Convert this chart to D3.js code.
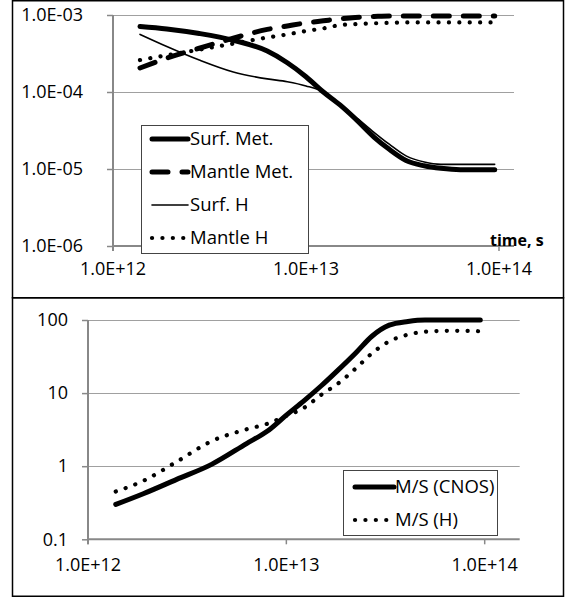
<!DOCTYPE html>
<html>
<head>
<meta charset="utf-8">
<script src="https://cdn.jsdelivr.net/npm/d3@7"></script>
<style>
    body { margin: 0; background: #fff; }
    text { font-family: "Open Sans", sans-serif; fill: #000; }
</style>
</head>
<body>
<div id="showBox"></div>
<script>
// time, s (shared by every series)
const times = [1.38e12, 1.9e12, 2.8e12, 4.2e12, 6.3e12, 8e12, 1.0e13, 1.23e13, 1.5e13, 1.8e13, 2.25e13, 2.7e13, 3.3e13, 4.1e13, 5e13, 6.3e13, 8e13, 9.5e13];

// top panel
const surfMet   = [7.1e-4, 6.6e-4, 5.75e-4, 4.7e-4, 3.4e-4, 2.4e-4, 1.58e-4, 1.0e-4, 6.8e-5, 4.5e-5, 2.6e-5, 1.8e-5, 1.29e-5, 1.1e-5, 1.02e-5, 9.8e-6, 9.8e-6, 9.8e-6];
const mantleMet = [2.05e-4, 2.75e-4, 3.7e-4, 5.0e-4, 6.5e-4, 7.2e-4, 7.9e-4, 8.4e-4, 8.9e-4, 9.3e-4, 9.55e-4, 9.7e-4, 9.7e-4, 9.7e-4, 9.7e-4, 9.7e-4, 9.7e-4, 9.7e-4];
const surfH     = [5.6e-4, 3.9e-4, 2.6e-4, 1.82e-4, 1.48e-4, 1.36e-4, 1.2e-4, 1.0e-4, 6.9e-5, 4.8e-5, 3.0e-5, 2.1e-5, 1.48e-5, 1.23e-5, 1.15e-5, 1.15e-5, 1.15e-5, 1.15e-5];
const mantleH   = [2.6e-4, 3.0e-4, 3.55e-4, 4.25e-4, 5.1e-4, 5.6e-4, 6.2e-4, 6.7e-4, 7.4e-4, 7.6e-4, 7.8e-4, 7.9e-4, 8.0e-4, 8.0e-4, 8.0e-4, 8.0e-4, 8.0e-4, 8.0e-4];

// bottom panel
const msCNOS = [0.30, 0.42, 0.66, 1.06, 2.04, 3.0, 5.0, 7.9, 12.6, 20, 36, 60, 85, 95.5, 100, 100, 100, 100];
const msH    = [0.45, 0.63, 1.15, 2.2, 3.2, 3.8, 4.9, 6.3, 9.5, 13.2, 22, 35, 51, 63, 69, 71, 71, 70];

const xTicks = [1e12, 1e13, 1e14];
const xTickLabels = ["1.0E+12", "1.0E+13", "1.0E+14"];
const topYTicks = [1e-6, 1e-5, 1e-4, 1e-3];
const topYTickLabels = ["1.0E-06", "1.0E-05", "1.0E-04", "1.0E-03"];
const botYTicks = [0.1, 1, 10, 100];
const botYTickLabels = ["0.1", "1", "10", "100"];

const styles = {
    thick:  {width: 5, dash: null},
    dashed: {width: 5, dash: "16,14"},
    thin:   {width: 1.6, dash: null},
    dotted: {width: 4.2, dash: "0.1,10.3"}
};

const svg = d3.select("#showBox").append("svg")
    .attr("width", 576).attr("height", 599);

function drawPanel(p) {
    const x = d3.scaleLog().domain([1e12, 1e14]).range([p.x0, p.x1]);
    const y = d3.scaleLog().domain(p.yDomain).range([p.yBottom, p.yTop]);
    const g = svg.append("g");

    // gridlines
    g.append("g").selectAll("line")
        .data(p.yTicks.slice(1))
        .join("line")
        .attr("x1", p.x0).attr("x2", p.plotRight)
        .attr("y1", d => Math.round(y(d)) + 0.5).attr("y2", d => Math.round(y(d)) + 0.5)
        .attr("stroke", "#a0a0a0").attr("stroke-width", 1);

    // y axis
    const yAxis = d3.axisLeft(y).tickValues(p.yTicks).tickFormat((d, i) => p.yLabels[i]).tickSize(6).tickPadding(p.yPad);
    const ya = g.append("g").attr("transform", `translate(${p.x0},0)`).call(yAxis);
    ya.select(".domain").remove();
    ya.selectAll(".tick line").attr("stroke", "#888").attr("stroke-width", 1.5);
    ya.selectAll(".tick text").attr("font-size", 18).attr("font-family", "Open Sans");
    g.append("line")
        .attr("x1", p.x0).attr("x2", p.x0)
        .attr("y1", p.yTop).attr("y2", p.yBottom + 5)
        .attr("stroke", "#888").attr("stroke-width", 2);

    // x axis
    g.append("line")
        .attr("x1", p.x0).attr("x2", p.plotRight)
        .attr("y1", p.yBottom).attr("y2", p.yBottom)
        .attr("stroke", "#888").attr("stroke-width", 2);
    g.append("g").selectAll("line")
        .data(xTicks)
        .join("line")
        .attr("x1", d => x(d)).attr("x2", d => x(d))
        .attr("y1", p.yBottom).attr("y2", p.yBottom + 5)
        .attr("stroke", "#888").attr("stroke-width", 1.5);
    g.append("g").selectAll("text")
        .data(xTicks)
        .join("text")
        .attr("x", d => x(d))
        .attr("y", p.xLabelY)
        .attr("dy", "0.35em")
        .attr("text-anchor", "middle")
        .attr("font-size", 18)
        .text((d, i) => xTickLabels[i]);

    // series
    const line = d3.line()
        .x(d => x(d[0]))
        .y(d => y(d[1]))
        .curve(d3.curveMonotoneX);

    p.series.forEach(s => {
        const st = styles[s.style];
        g.append("path")
            .datum(times.map((t, i) => [t, s.values[i]]))
            .attr("fill", "none")
            .attr("stroke", "#000")
            .attr("stroke-width", st.width)
            .attr("stroke-linecap", "round")
            .attr("stroke-linejoin", "round")
            .attr("stroke-dasharray", st.dash)
            .attr("d", line);
    });

    // legend
    const lg = p.legend;
    g.append("rect")
        .attr("x", lg.x + 0.5).attr("y", lg.y + 0.5)
        .attr("width", lg.w).attr("height", lg.h)
        .attr("fill", "#fff").attr("stroke", "#444").attr("stroke-width", 1);
    p.series.forEach((s, i) => {
        const st = styles[s.style];
        const ry = lg.y + lg.first + i * lg.step;
        g.append("line")
            .attr("x1", lg.x + lg.lx0).attr("x2", lg.x + lg.lx1)
            .attr("y1", ry).attr("y2", ry)
            .attr("stroke", "#000")
            .attr("stroke-width", st.width)
            .attr("stroke-linecap", "round")
            .attr("stroke-dasharray", st.dash);
        g.append("text")
            .attr("x", lg.x + lg.tx).attr("y", ry)
            .attr("dy", "0.35em")
            .attr("font-size", 18.5)
            .text(s.name);
    });

    if (p.xTitle) {
        g.append("text")
            .attr("x", p.xTitle.x).attr("y", p.xTitle.y)
            .attr("dy", "0.35em")
            .attr("font-size", 16)
            .attr("font-weight", "bold")
            .text(p.xTitle.text);
    }
}

drawPanel({
    x0: 113, x1: 499, plotRight: 514,
    yDomain: [1e-6, 1e-3], yBottom: 246, yTop: 15,
    yTicks: topYTicks, yLabels: topYTickLabels, yPad: 24,
    xLabelY: 269,
    series: [
        {name: "Surf. Met.", values: surfMet, style: "thick"},
        {name: "Mantle Met.", values: mantleMet, style: "dashed"},
        {name: "Surf. H", values: surfH, style: "thin"},
        {name: "Mantle H", values: mantleH, style: "dotted"}
    ],
    legend: {x: 141, y: 125, w: 167, h: 128, first: 14, step: 33, lx0: 11, lx1: 47, tx: 49},
    xTitle: {text: "time, s", x: 490, y: 240}
});

drawPanel({
    x0: 88, x1: 484.7, plotRight: 519.7,
    yDomain: [0.1, 100], yBottom: 539.3, yTop: 320,
    yTicks: botYTicks, yLabels: botYTickLabels, yPad: 14,
    xLabelY: 565,
    series: [
        {name: "M/S (CNOS)", values: msCNOS, style: "thick"},
        {name: "M/S (H)", values: msH, style: "dotted"}
    ],
    legend: {x: 343, y: 470, w: 154, h: 65, first: 17, step: 33, lx0: 12, lx1: 51, tx: 52}
});

// outer frames
svg.append("rect").attr("x", 12.5).attr("y", 0.75).attr("width", 551).attr("height", 297)
    .attr("fill", "none").attr("stroke", "#000").attr("stroke-width", 1.5);
svg.append("rect").attr("x", 12.5).attr("y", 297.75).attr("width", 551).attr("height", 298.5)
    .attr("fill", "none").attr("stroke", "#000").attr("stroke-width", 1.5);
</script>
</body>
</html>
